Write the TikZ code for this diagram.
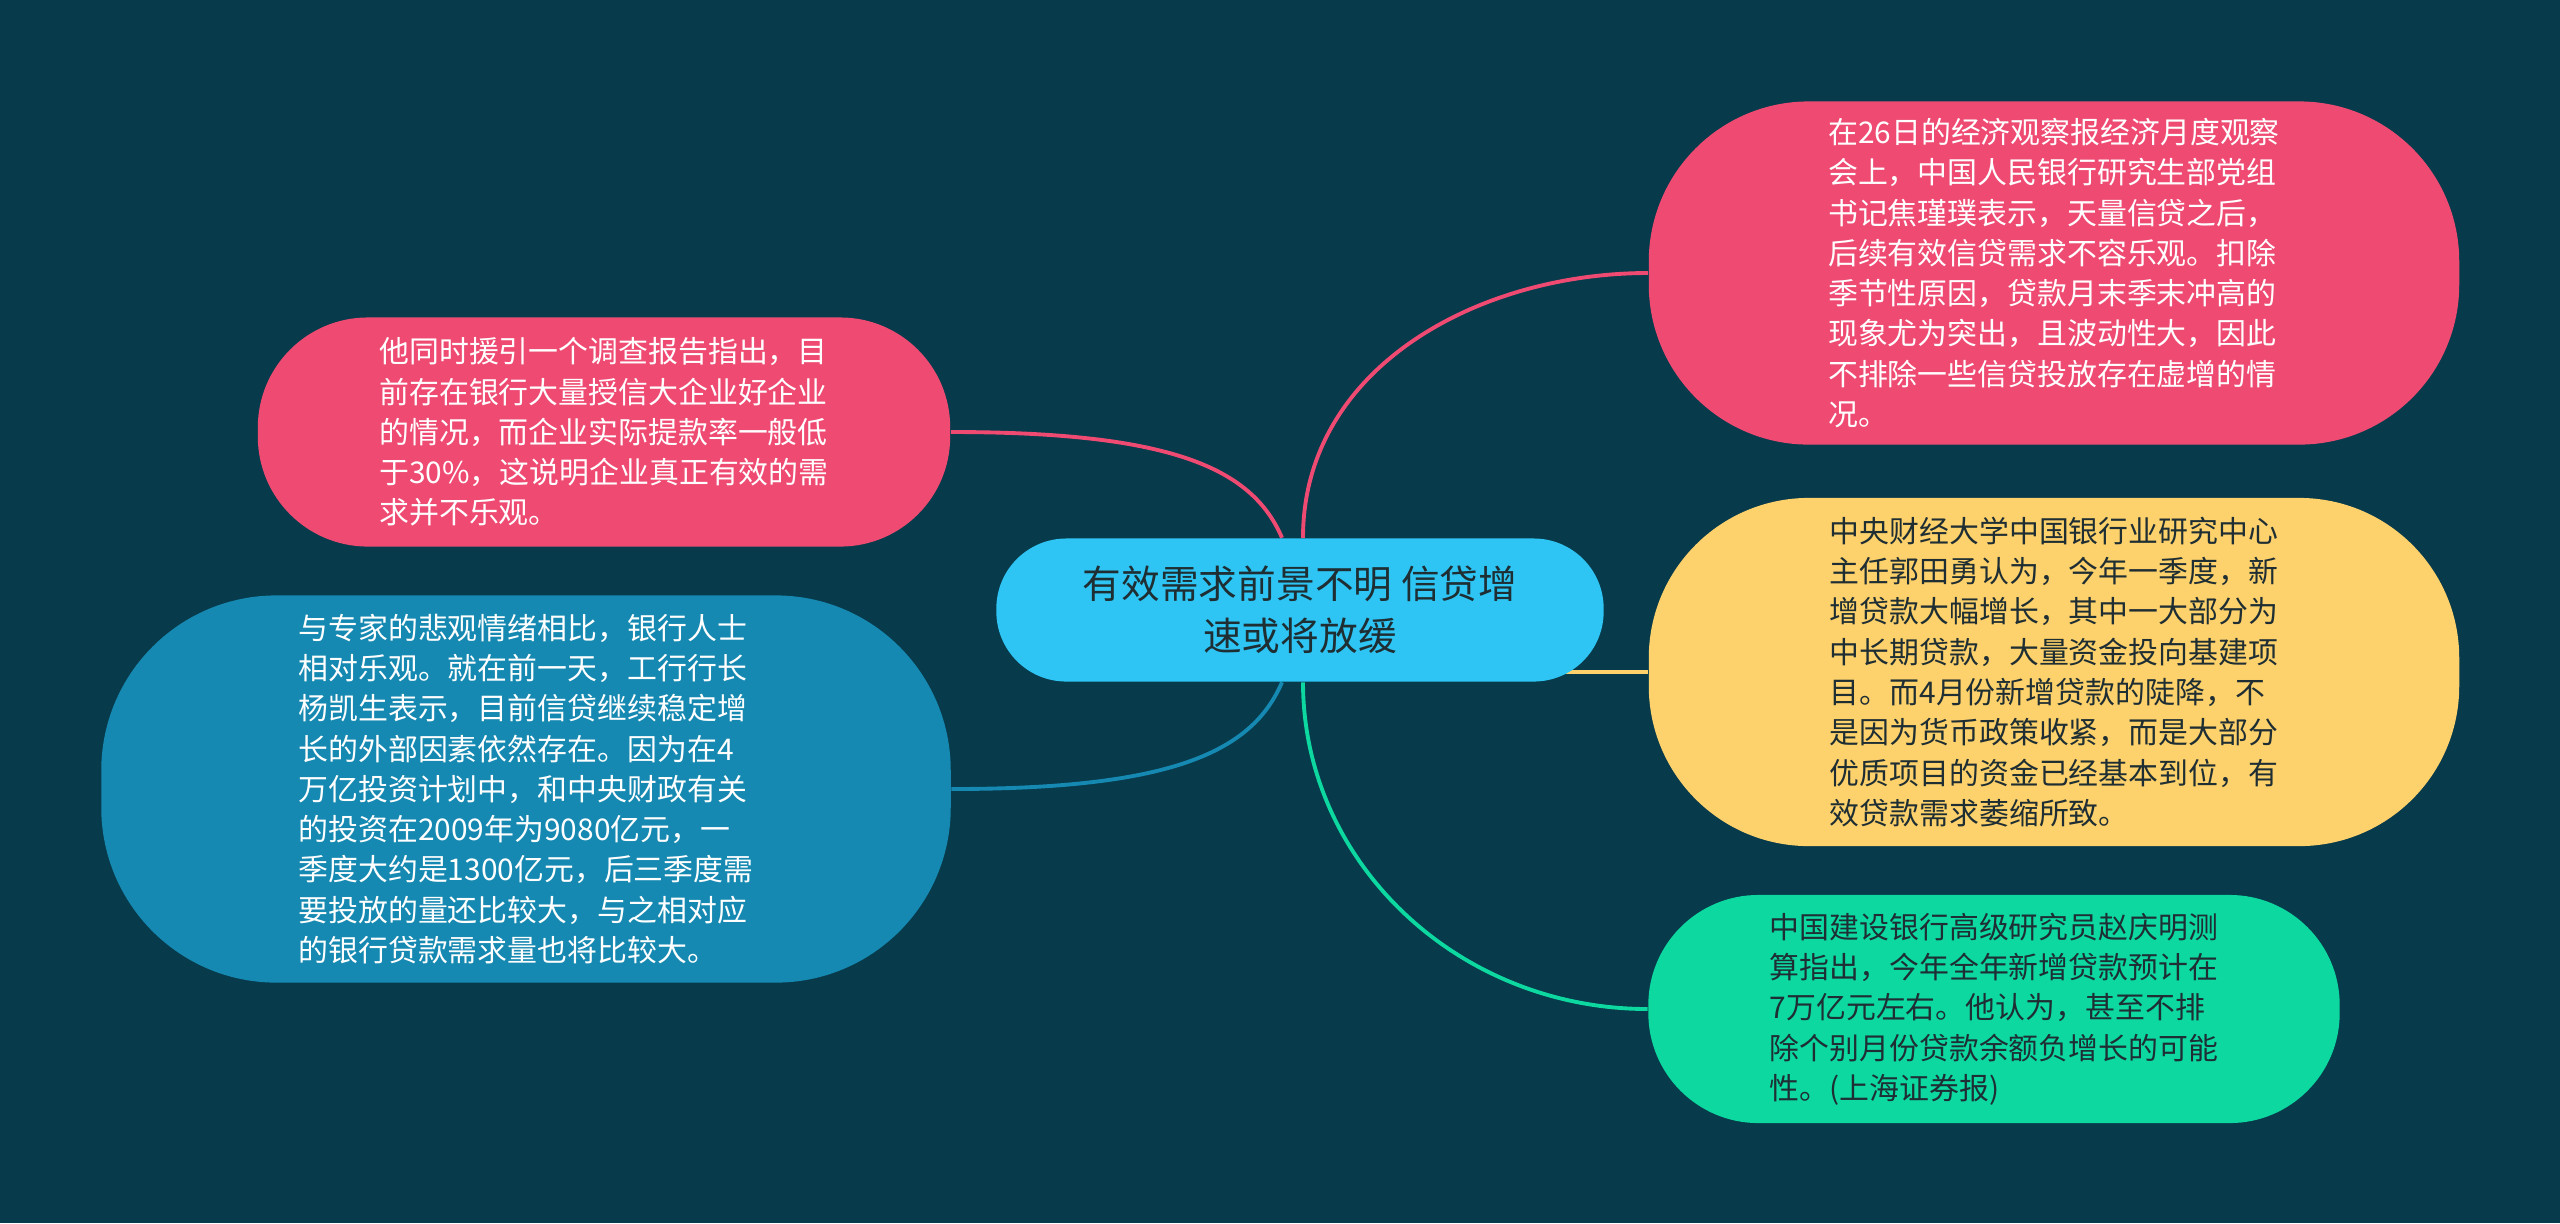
\documentclass[tikz,border=0pt]{standalone}
\usepackage{fontspec}
\newfontfamily\cjk{Noto Sans CJK SC}
\usetikzlibrary{backgrounds}
\definecolor{bgcol}{HTML}{073A4B}
\definecolor{rootcol}{HTML}{2EC5F4}
\definecolor{pinkcol}{HTML}{EF4A72}
\definecolor{bluecol}{HTML}{1589B1}
\definecolor{yellowcol}{HTML}{FDD16B}
\definecolor{greencol}{HTML}{0CD8A0}
\definecolor{darkink}{HTML}{1E2E33}

\begin{document}
\begin{tikzpicture}[
  x=0.01cm, y=-0.01cm,
  line cap=round,
  topic/.style={fill=rootcol, text=darkink, align=center, inner sep=0pt,
    rounded corners=0.7cm, minimum width=6.07cm, minimum height=1.43cm,
    font=\cjk\fontsize{11pt}{14.7pt}\selectfont},
  leaf/.style={align=left, inner sep=0pt,
    font=\cjk\fontsize{8.5pt}{11.45pt}\selectfont},
  link/.style={line width=1.1pt}
]
  \useasboundingbox (0,0) rectangle (2560,1223);

  \node[topic] (topic) at (1300,610) {有效需求前景不明 信贷增\\速或将放缓};

  \node[leaf, fill=pinkcol, text=white, rounded corners=1.6cm,
    minimum width=8.1cm, minimum height=3.43cm] (jiao) at (2054,273)
    {在26日的经济观察报经济月度观察\\
     会上，中国人民银行研究生部党组\\
     书记焦瑾璞表示，天量信贷之后，\\
     后续有效信贷需求不容乐观。扣除\\
     季节性原因，贷款月末季末冲高的\\
     现象尤为突出，且波动性大，因此\\
     不排除一些信贷投放存在虚增的情\\
     况。};

  \node[leaf, fill=pinkcol, text=white, rounded corners=1.1cm,
    minimum width=6.92cm, minimum height=2.29cm] (survey) at (604,432)
    {他同时援引一个调查报告指出，目\\
     前存在银行大量授信大企业好企业\\
     的情况，而企业实际提款率一般低\\
     于30\%，这说明企业真正有效的需\\
     求并不乐观。};

  \node[leaf, fill=bluecol, text=white, rounded corners=1.75cm,
    minimum width=8.49cm, minimum height=3.87cm] (bank) at (526,789)
    {与专家的悲观情绪相比，银行人士\\
     相对乐观。就在前一天，工行行长\\
     杨凯生表示，目前信贷继续稳定增\\
     长的外部因素依然存在。因为在4\\
     万亿投资计划中，和中央财政有关\\
     的投资在2009年为9080亿元，一\\
     季度大约是1300亿元，后三季度需\\
     要投放的量还比较大，与之相对应\\
     的银行贷款需求量也将比较大。};

  \node[leaf, fill=yellowcol, text=darkink, rounded corners=1.6cm,
    minimum width=8.1cm, minimum height=3.48cm] (guo) at (2054,672)
    {中央财经大学中国银行业研究中心\\
     主任郭田勇认为，今年一季度，新\\
     增贷款大幅增长，其中一大部分为\\
     中长期贷款，大量资金投向基建项\\
     目。而4月份新增贷款的陡降，不\\
     是因为货币政策收紧，而是大部分\\
     优质项目的资金已经基本到位，有\\
     效贷款需求萎缩所致。};

  \node[leaf, fill=greencol, text=darkink, rounded corners=1.1cm,
    minimum width=6.91cm, minimum height=2.28cm] (zhao) at (1994,1009)
    {中国建设银行高级研究员赵庆明测\\
     算指出，今年全年新增贷款预计在\\
     7万亿元左右。他认为，甚至不排\\
     除个别月份贷款余额负增长的可能\\
     性。(上海证券报)};

  \begin{scope}[on background layer]
    \fill[bgcol] (0,0) rectangle (2560,1223);
    \draw[link, pinkcol] ([xshift=0.03cm]topic.north)
      .. controls +(0,-170) and +(-170,0) .. (jiao.west);
    \draw[link, pinkcol] ([xshift=-0.18cm]topic.north)
      .. controls +(-30,-70) and +(220,0) .. (survey.east);
    \draw[link, bluecol] ([xshift=-0.18cm]topic.south)
      .. controls +(-30,70) and +(220,0) .. (bank.east);
    \draw[link, yellowcol, line width=1.4pt] (topic.center |- guo.west) -- (guo.west);
    \draw[link, greencol] ([xshift=0.03cm]topic.south)
      .. controls +(0,180) and +(-190,0) .. (zhao.west);
  \end{scope}
\end{tikzpicture}
\end{document}
